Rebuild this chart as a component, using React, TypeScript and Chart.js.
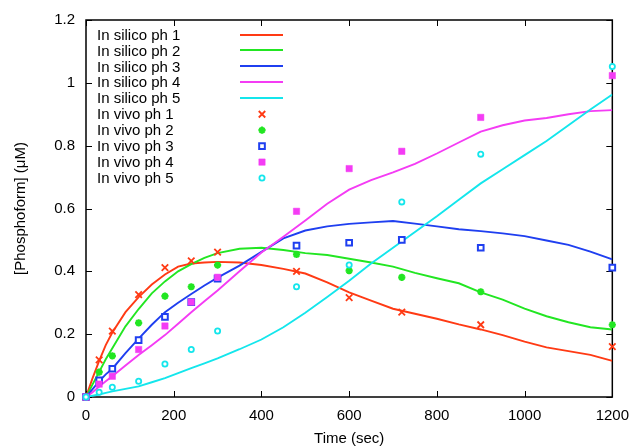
import React, { useEffect, useRef } from 'react';
import { Chart, registerables } from 'chart.js';
import { drawPoint } from 'chart.js/helpers';

Chart.register(...registerables);

const FONT = '"Liberation Sans", Arial, Helvetica, sans-serif';

// Simulation (in silico) time grid, seconds
const simTime = [0, 15, 30, 45, 60, 90, 120, 150, 180, 210, 240, 270, 300, 350, 400, 450, 500, 550, 600, 650, 700, 750, 800, 850, 900, 950, 1000, 1050, 1100, 1150, 1200];
const silico1 = [0, 0.06, 0.115, 0.165, 0.205, 0.27, 0.318, 0.358, 0.39, 0.415, 0.425, 0.428, 0.43, 0.428, 0.42, 0.408, 0.393, 0.365, 0.333, 0.307, 0.281, 0.265, 0.249, 0.231, 0.215, 0.197, 0.176, 0.158, 0.146, 0.134, 0.115];
const silico2 = [0, 0.04, 0.08, 0.12, 0.155, 0.225, 0.28, 0.33, 0.368, 0.4, 0.423, 0.443, 0.458, 0.472, 0.475, 0.468, 0.458, 0.452, 0.44, 0.428, 0.415, 0.395, 0.378, 0.362, 0.333, 0.31, 0.281, 0.257, 0.238, 0.222, 0.215];
const silico3 = [0, 0.025, 0.05, 0.072, 0.09, 0.14, 0.186, 0.23, 0.27, 0.3, 0.328, 0.355, 0.38, 0.418, 0.462, 0.505, 0.53, 0.543, 0.551, 0.556, 0.56, 0.552, 0.543, 0.534, 0.528, 0.521, 0.512, 0.498, 0.484, 0.463, 0.438];
const silico4 = [0, 0.015, 0.033, 0.05, 0.066, 0.1, 0.134, 0.165, 0.197, 0.233, 0.27, 0.305, 0.339, 0.4, 0.46, 0.51, 0.562, 0.615, 0.66, 0.69, 0.715, 0.742, 0.775, 0.81, 0.845, 0.865, 0.88, 0.888, 0.9, 0.91, 0.913];
const silico5 = [0, 0.004, 0.008, 0.013, 0.018, 0.026, 0.034, 0.047, 0.06, 0.076, 0.092, 0.107, 0.123, 0.152, 0.183, 0.222, 0.268, 0.318, 0.37, 0.425, 0.475, 0.525, 0.575, 0.628, 0.68, 0.725, 0.77, 0.815, 0.865, 0.915, 0.963];

// Experimental (in vivo) measurements
const vivoTime = [0, 30, 60, 120, 180, 240, 300, 480, 600, 720, 900, 1200];
const vivo1 = [0, 0.118, 0.21, 0.326, 0.412, 0.433, 0.461, 0.4, 0.316, 0.27, 0.23, 0.16];
const vivo2 = [0, 0.079, 0.131, 0.236, 0.321, 0.351, 0.42, 0.454, 0.402, 0.381, 0.335, 0.23];
const vivo3 = [0, 0.053, 0.09, 0.181, 0.255, 0.302, 0.377, 0.482, 0.491, 0.5, 0.475, 0.412];
const vivo4 = [0, 0.041, 0.066, 0.151, 0.226, 0.302, 0.381, 0.591, 0.727, 0.782, 0.89, 1.023];
const vivo5 = [0, 0.015, 0.031, 0.05, 0.105, 0.151, 0.21, 0.351, 0.42, 0.621, 0.773, 1.052];

const silicoLabels = ['In silico ph 1', 'In silico ph 2', 'In silico ph 3', 'In silico ph 4', 'In silico ph 5'];
const vivoLabels = ['In vivo ph 1', 'In vivo ph 2', 'In vivo ph 3', 'In vivo ph 4', 'In vivo ph 5'];
const xTitle = 'Time (sec)';
const yTitle = '[Phosphoform] (\u03bcM)';

const colors = ['#ff3a14', '#22e622', '#1f3ff0', '#f43cf4', '#14e6ec'];
const markers = [
  { pointStyle: 'crossRot', radius: 4.6, borderWidth: 1.8, fill: 'rgba(0,0,0,0)' },
  { pointStyle: 'star', radius: 3.6, borderWidth: 2.2, fill: 'rgba(0,0,0,0)' },
  { pointStyle: 'rect', radius: 4, borderWidth: 2, fill: '#ffffff' },
  { pointStyle: 'rect', radius: 4.5, borderWidth: 0.5, fill: '#f43cf4' },
  { pointStyle: 'circle', radius: 2.6, borderWidth: 1.8, fill: '#ffffff' },
];

const silicoSeries = [silico1, silico2, silico3, silico4, silico5];
const vivoSeries = [vivo1, vivo2, vivo3, vivo4, vivo5];

const framePlugin = {
  id: 'gnuFrame',
  beforeDatasetsDraw(chart: any) {
    const { ctx, chartArea: a, scales } = chart;
    ctx.save();
    ctx.strokeStyle = '#000';
    ctx.lineWidth = 1.5;
    ctx.strokeRect(a.left, a.top, a.right - a.left, a.bottom - a.top);
    ctx.lineWidth = 1;
    const tl = 6;
    ctx.beginPath();
    scales.x.ticks.forEach((t: any) => {
      const px = Math.round(scales.x.getPixelForValue(t.value)) + 0.5;
      ctx.moveTo(px, a.bottom);
      ctx.lineTo(px, a.bottom - tl);
      ctx.moveTo(px, a.top);
      ctx.lineTo(px, a.top + tl);
    });
    scales.y.ticks.forEach((t: any) => {
      const py = Math.round(scales.y.getPixelForValue(t.value)) + 0.5;
      ctx.moveTo(a.left, py);
      ctx.lineTo(a.left + tl, py);
      ctx.moveTo(a.right, py);
      ctx.lineTo(a.right - tl, py);
    });
    ctx.stroke();
    ctx.restore();
  },
  afterDraw(chart: any) {
    const { ctx, chartArea: a } = chart;
    ctx.save();
    ctx.font = '15px ' + FONT;
    ctx.fillStyle = '#000';
    ctx.textAlign = 'left';
    ctx.textBaseline = 'middle';
    const textX = a.left + 11;
    const y0 = a.top + 15.5;
    const dy = 15.95;
    const lineX0 = a.left + 154;
    const lineX1 = a.left + 197;
    const markX = a.left + 176;
    for (let i = 0; i < 5; i++) {
      const y = y0 + dy * i;
      ctx.fillText(silicoLabels[i], textX, y);
      ctx.strokeStyle = colors[i];
      ctx.lineWidth = 1.8;
      ctx.beginPath();
      ctx.moveTo(lineX0, Math.round(y) - 1);
      ctx.lineTo(lineX1, Math.round(y) - 1);
      ctx.stroke();
    }
    for (let i = 0; i < 5; i++) {
      const y = y0 + dy * (i + 5);
      ctx.fillStyle = '#000';
      ctx.fillText(vivoLabels[i], textX, y);
      const m = markers[i];
      ctx.fillStyle = m.fill;
      ctx.strokeStyle = colors[i];
      ctx.lineWidth = m.borderWidth;
      drawPoint(ctx, { pointStyle: m.pointStyle as any, radius: m.radius, rotation: 0, borderWidth: m.borderWidth }, markX, y - 1);
    }
    ctx.restore();
  },
};

export default function App() {
  const ref = useRef<HTMLCanvasElement | null>(null);
  useEffect(() => {
    if (!ref.current) return;
    const datasets: any[] = [];
    silicoSeries.forEach((s, i) => {
      datasets.push({
        label: silicoLabels[i],
        data: simTime.map((t, k) => ({ x: t, y: s[k] })),
        showLine: true,
        borderColor: colors[i],
        borderWidth: 1.9,
        pointRadius: 0,
        pointHoverRadius: 0,
        fill: false,
        tension: 0,
        order: 10 - i,
      });
    });
    vivoSeries.forEach((s, i) => {
      const m = markers[i];
      datasets.push({
        label: vivoLabels[i],
        data: vivoTime.map((t, k) => ({ x: t, y: s[k] })),
        showLine: false,
        pointStyle: m.pointStyle,
        pointRadius: m.radius,
        pointBorderWidth: m.borderWidth,
        pointBorderColor: colors[i],
        pointBackgroundColor: m.fill,
        clip: false,
        order: 5 - i,
      });
    });
    const chart = new Chart(ref.current, {
      type: 'scatter',
      data: { datasets },
      plugins: [framePlugin],
      options: {
        responsive: false,
        animation: false,
        devicePixelRatio: 1,
        layout: { padding: { top: 15, right: 20, left: 0, bottom: 0 } },
        plugins: { legend: { display: false }, tooltip: { enabled: false } },
        scales: {
          x: {
            type: 'linear',
            min: 0,
            max: 1200,
            border: { display: false },
            grid: { display: false, drawTicks: false },
            ticks: {
              stepSize: 200,
              padding: 10,
              color: '#000',
              font: { family: FONT, size: 15 },
              maxRotation: 0,
              callback: (v: any) => String(Math.round(Number(v))),
            },
            title: { display: true, text: xTitle, color: '#000', font: { family: FONT, size: 15 }, padding: { top: 0, bottom: 0 } },
            afterFit: (s: any) => { s.height = 51; },
          },
          y: {
            type: 'linear',
            min: 0,
            max: 1.2,
            border: { display: false },
            grid: { display: false, drawTicks: false },
            ticks: {
              stepSize: 0.2,
              padding: 11,
              color: '#000',
              font: { family: FONT, size: 15 },
              callback: (v: any) => String(parseFloat(Number(v).toFixed(1))),
            },
            title: { display: true, text: yTitle, color: '#000', font: { family: FONT, size: 15 }, padding: { top: 12, bottom: 0 } },
            afterFit: (s: any) => { s.width = 86; },
          },
        },
      } as any,
    });
    return () => chart.destroy();
  }, []);
  return (
    <div style={{ position: 'fixed', left: 0, top: 0, width: 639, height: 448, background: '#fff' }}>
      <canvas ref={ref} width={639} height={448} />
    </div>
  );
}
